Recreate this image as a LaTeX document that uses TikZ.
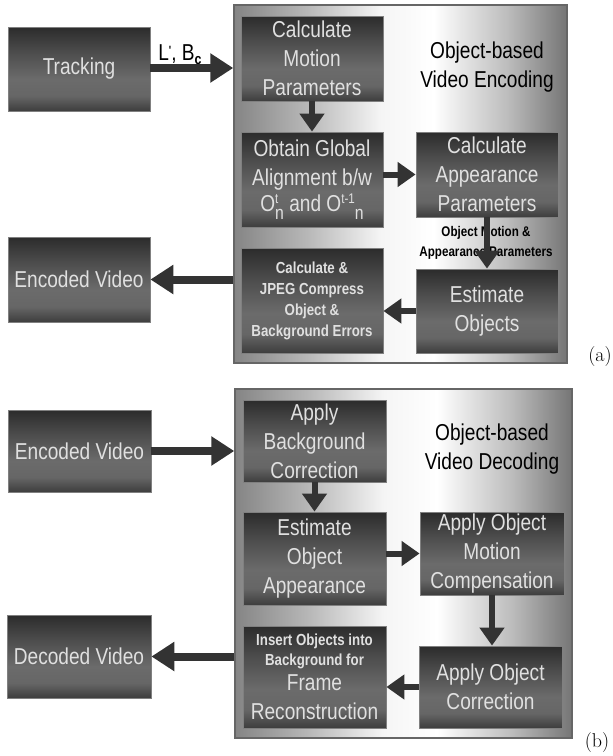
\documentclass[tikz,border=0pt]{standalone}
\usepackage{fontspec}
\newfontfamily\ar[FakeStretch=0.83]{Liberation Sans}
\usetikzlibrary{arrows.meta}
\pgfdeclarehorizontalshading{outershade}{100bp}{rgb(0bp)=(0.52,0.52,0.52); rgb(25bp)=(0.52,0.52,0.52); rgb(36bp)=(0.72,0.72,0.72); rgb(47bp)=(0.96,0.96,0.96); rgb(55bp)=(1,1,1); rgb(66bp)=(0.74,0.74,0.74); rgb(75bp)=(0.46,0.46,0.46); rgb(100bp)=(0.46,0.46,0.46)}
\pgfdeclareverticalshading{boxshade}{100bp}{rgb(0bp)=(0.24,0.24,0.24); rgb(25bp)=(0.24,0.24,0.24); rgb(34bp)=(0.40,0.40,0.40); rgb(44bp)=(0.42,0.42,0.42); rgb(60bp)=(0.30,0.30,0.30); rgb(75bp)=(0.17,0.17,0.17); rgb(100bp)=(0.17,0.17,0.17)}
\newcommand{\supt}[1]{\raisebox{8pt}{\fontsize{14}{14}\selectfont #1}}
\newcommand{\subn}[1]{\raisebox{-8pt}{\fontsize{19}{19}\selectfont #1}}
\tikzset{
  box/.style={rectangle, draw=black!50, line width=0.8pt, shade, shading=boxshade, text=white!88!black, font=\ar\fontsize{23}{29}\selectfont, align=center, inner sep=0pt},
  smallbox/.style={box, font=\ar\bfseries\fontsize{16}{21}\selectfont},
  outer/.style={rectangle, draw=black!60, line width=1.5pt, shade, shading=outershade, inner sep=0pt},
  titletext/.style={font=\ar\fontsize{23}{29}\selectfont, align=center, text=black},
  bigarrow/.style={draw=black!80, line width=8pt, -{Triangle[width=28pt,length=23pt]}},
  midarrow/.style={draw=black!80, line width=6pt, -{Triangle[width=24pt,length=18pt]}},
  panellabel/.style={font=\fontsize{20}{24}\selectfont}
}
\begin{document}
\begin{tikzpicture}[x=1pt,y=-1pt]
\useasboundingbox (0,0) rectangle (613,756);
% ---------- panel (a)
\node[outer, minimum width=333pt, minimum height=358pt] (outerA) at (400.5,184) {};
\node[box, minimum width=142pt, minimum height=84pt] (track) at (79,69) {Tracking};
\node[box, minimum width=142pt, minimum height=85pt] (encA) at (79,279.5) {Encoded Video};
\node[box, minimum width=142pt, minimum height=85pt] (cmp) at (312,58.5) {Calculate\\Motion\\Parameters};
\node[box, minimum width=142pt, minimum height=95pt] (oga) at (312,179.5) {Obtain Global\\Alignment b/w\\[-3pt]O\rlap{\supt{t}}\subn{n} and O\supt{t-1}\subn{n}};
\node[box, minimum width=142pt, minimum height=85pt] (cap) at (487,174.5) {Calculate\\Appearance\\Parameters};
\node[box, minimum width=142pt, minimum height=84pt] (eo) at (487,311) {Estimate\\Objects};
\node[smallbox, minimum width=142pt, minimum height=105pt] (jpeg) at (312,300.5) {Calculate \&\\JPEG Compress\\Object \&\\Background Errors};
\node[titletext] (titleA) at (487,67) {Object-based\\Video Encoding};
\node[titletext, anchor=base] (lab) at (180,60) {L\raisebox{6pt}{\fontsize{12}{12}\selectfont\bfseries '}, B\raisebox{-0.4ex}{\fontsize{15}{15}\selectfont\bfseries c}};
\node[font=\ar\bfseries\fontsize{14}{20}\selectfont, align=center] (oma) at (486,243) {Object Motion \&\\Appearance Parameters};
\node[panellabel] (la) at (600,357) {(a)};
\draw[bigarrow] (track.east |- 0,68) -- (outerA.west |- 0,68);
\draw[midarrow] (cmp.south) -- (oga.north);
\draw[midarrow] (oga.east |- cap.west) -- (cap.west);
\draw[midarrow] (cap.south) -- (eo.north);
\draw[midarrow] (eo.west) -- (eo.west -| jpeg.east);
\draw[bigarrow] (outerA.west |- encA.east) -- (encA.east);
% ---------- panel (b)
\node[outer, minimum width=337pt, minimum height=349pt] (outerB) at (403.5,563.5) {};
\node[box, minimum width=143pt, minimum height=82pt] (encB) at (79.5,451) {Encoded Video};
\node[box, minimum width=144pt, minimum height=83pt] (decB) at (79,656.5) {Decoded Video};
\node[box, minimum width=143pt, minimum height=82pt] (abc) at (314.5,441) {Apply\\Background\\Correction};
\node[box, minimum width=143pt, minimum height=93pt] (eoa) at (314.5,558.5) {Estimate\\Object\\Appearance};
\node[box, minimum width=144pt, minimum height=83pt] (aomc) at (492,553.5) {Apply Object\\Motion\\Compensation};
\node[box, minimum width=143pt, minimum height=82pt] (aoc) at (490.5,687) {Apply Object\\Correction};
\node[box, minimum width=143pt, minimum height=102pt] (ins) at (314.5,677) {{\bfseries\fontsize{16}{20}\selectfont Insert Objects into}\\[-9pt]{\bfseries\fontsize{16}{20}\selectfont Background for}\\[-4pt]Frame\\Reconstruction};
\node[titletext] (titleB) at (492,449) {Object-based\\Video Decoding};
\node[panellabel] (lb) at (597,743) {(b)};
\draw[bigarrow] (encB.east) -- (encB.east -| outerB.west);
\draw[midarrow] (abc.south) -- (eoa.north);
\draw[midarrow] (eoa.east |- aomc.west) -- (aomc.west);
\draw[midarrow] (aomc.south) -- (aomc.south |- aoc.north);
\draw[midarrow] (aoc.west) -- (aoc.west -| ins.east);
\draw[bigarrow] (outerB.west |- decB.east) -- (decB.east);
\end{tikzpicture}
\end{document}
